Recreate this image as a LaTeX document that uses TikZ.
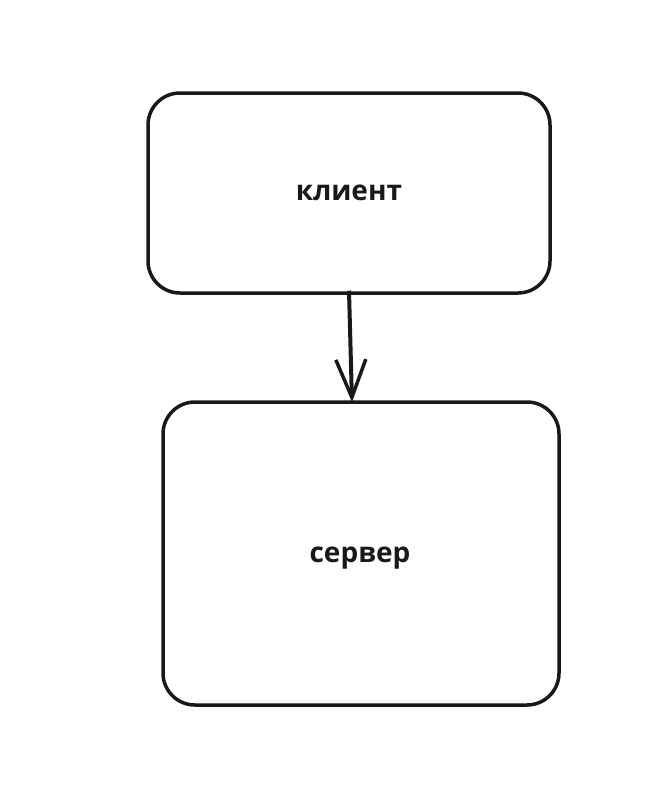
\documentclass[tikz,border=0pt]{standalone}
\usepackage{fontspec}
\setmainfont{Open Sans}
\usetikzlibrary{arrows.meta}
\begin{document}
\begin{tikzpicture}[x=1pt,y=-1pt,
  txt/.style={font=\fontsize{28}{32}\selectfont\bfseries\color{black!90}},
  boxstyle/.style={draw=black!90, line width=3.5pt, rounded corners=32pt, fill=white, inner sep=0pt, txt},
  arr/.style={draw=black!90, line width=4pt, -{Straight Barb[length=38pt,width=30pt,line width=3.5pt]}}]
\useasboundingbox (0,0) rectangle (664,792);
\node[boxstyle, minimum width=402pt, minimum height=200pt] (k) at (349,193) {клиент};
\node[boxstyle, minimum width=396pt, minimum height=303pt] (s) at (361,553.5) {};
\node[txt] (st) at (360,558) {сервер};
\coordinate (a1) at ([yshift=4pt]k.south);
\coordinate (a2) at ([xshift=-9pt,yshift=-2pt]s.north);
\draw[arr] (a1) -- (a2);
\end{tikzpicture}
\end{document}
